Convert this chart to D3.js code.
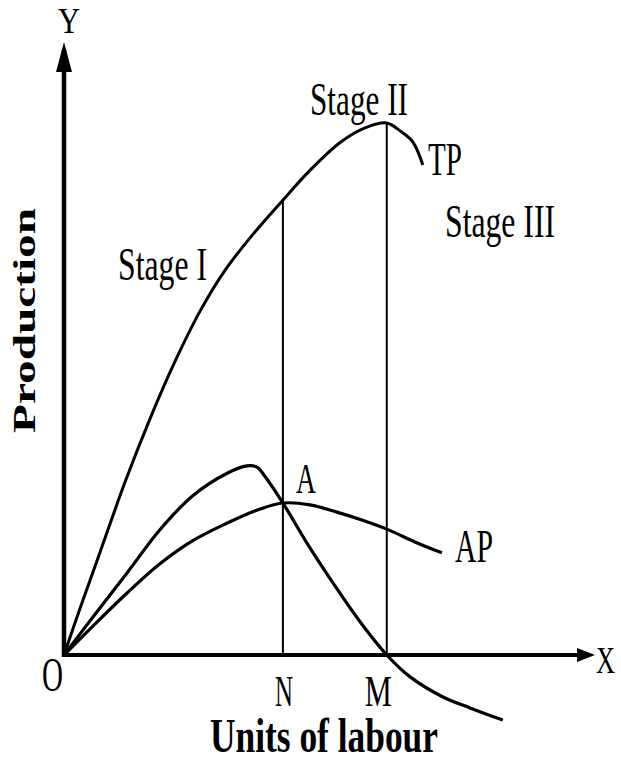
<!DOCTYPE html>
<html>
<head>
<meta charset="utf-8">
<script src="https://cdn.jsdelivr.net/npm/d3@7"></script>
<style>
  body { margin: 0; background: #fff; }
  text { font-family: "Liberation Serif", "Times New Roman", serif; fill: #000; }
</style>
</head>
<body>
<svg id="chart" width="621" height="758"></svg>
<script>
// curves, x = units of labour, y = production (0-100 scale)
const tpCurve = [
  [0, 0], [3.0, 7.6], [6.8, 16.9], [11.5, 28.4], [16.2, 38.8], [20.9, 48.2],
  [25.7, 56.6], [30.4, 63.3], [35.1, 68.6], [41.3, 74.8], [46.4, 79.7],
  [52.1, 84.3], [56.8, 86.7], [60.9, 87.5], [63.4, 86.2], [65.8, 84.4], [67.7, 80.6]
];
const mpCurve = [
  [0, 0], [5.5, 6.3], [11.9, 13.5], [18.1, 20.6], [24.3, 26.2], [30.8, 29.9],
  [34.5, 31.1], [36.4, 30.9], [37.9, 29.4], [41.3, 25.0], [46.2, 17.9],
  [51.1, 11.4], [56.0, 5.3], [60.9, 0], [65.3, -3.6], [71.5, -6.9],
  [76.6, -8.7], [82.8, -10.7]
];
const apCurve = [
  [0, 0], [5.5, 4.8], [11.9, 10.2], [18.1, 15.0], [24.3, 18.8], [30.8, 21.7],
  [36.0, 23.7], [41.3, 25.0], [46.4, 24.7], [51.5, 23.5], [56.2, 22.2],
  [60.9, 20.7], [66.2, 18.6], [71.3, 16.8]
];

// N = where AP is max, M = where TP is max
const markerNames = ["N", "M"];
const markerX = [41.3, 60.9];
const markerTop = [74.8, 87.5];

const stageLabels = ["Stage I", "Stage II", "Stage III"];
const curveLabels = ["TP", "AP", "A"];

let svg = d3.select("#chart");

let x = d3.scaleLinear().domain([0, 100]).range([64, 594]);
let y = d3.scaleLinear().domain([0, 100]).range([655, 47]);

let line = d3.line()
  .x(d => x(d[0]))
  .y(d => y(d[1]))
  .curve(d3.curveCatmullRom.alpha(0.5));

svg.append("rect").attr("width", 621).attr("height", 758).attr("fill", "#fff");

// vertical lines at N and M
svg.selectAll(".marker")
  .data(markerX)
  .enter().append("line")
  .attr("x1", d => x(d))
  .attr("x2", d => x(d))
  .attr("y1", (d, i) => y(markerTop[i]))
  .attr("y2", y(0))
  .attr("stroke", "#000")
  .attr("stroke-width", 2);

// curves
svg.append("path").datum(tpCurve)
  .attr("d", line).attr("fill", "none").attr("stroke", "#000").attr("stroke-width", 3);
svg.append("path").datum(mpCurve)
  .attr("d", line).attr("fill", "none").attr("stroke", "#000").attr("stroke-width", 3.2);
svg.append("path").datum(apCurve)
  .attr("d", line).attr("fill", "none").attr("stroke", "#000").attr("stroke-width", 3.2);

// axes with arrows
svg.append("line")
  .attr("x1", x(0)).attr("x2", x(0))
  .attr("y1", y(0) + 2).attr("y2", 50)
  .attr("stroke", "#000").attr("stroke-width", 4.5);
svg.append("line")
  .attr("x1", x(0)).attr("x2", 585)
  .attr("y1", y(0)).attr("y2", y(0))
  .attr("stroke", "#000").attr("stroke-width", 4);
svg.append("path")
  .attr("d", `M${x(0)},42 L${x(0) - 8},72 L${x(0) + 8},72 Z`)
  .attr("fill", "#000");
svg.append("path")
  .attr("d", `M595,${y(0)} L577,${y(0) - 7} L577,${y(0) + 7} Z`)
  .attr("fill", "#000");

function label(t, px, py, size, len, bold) {
  return svg.append("text")
    .attr("x", px).attr("y", py)
    .attr("font-size", size)
    .attr("font-weight", bold ? "bold" : "normal")
    .attr("textLength", len)
    .attr("lengthAdjust", "spacingAndGlyphs")
    .text(t);
}

// axis letters
label("Y", 58, 33, 35, 22);
label("X", 596, 673, 38, 19);
label("O", 42, 691, 48, 21);
markerNames.forEach((n, i) => {
  label(n, x(markerX[i]) + (i === 0 ? -8 : -22), 706, 44, i === 0 ? 18 : 27);
});

// stage labels
label(stageLabels[0], 118, 280, 46, 89);
label(stageLabels[1], 310, 115, 46, 98);
label(stageLabels[2], 445, 237, 46, 110);

// curve labels
label(curveLabels[0], 428, 175, 46, 34);
label(curveLabels[1], 455, 562, 46, 38);
label(curveLabels[2], 296, 493, 43, 20);

// axis titles
label("Units of labour", 210, 752, 49, 228, true);
svg.append("text")
  .attr("transform", "translate(35,433) rotate(-90)")
  .attr("font-size", 32)
  .attr("font-weight", "bold")
  .attr("textLength", 225)
  .attr("lengthAdjust", "spacingAndGlyphs")
  .text("Production");
</script>
</body>
</html>
